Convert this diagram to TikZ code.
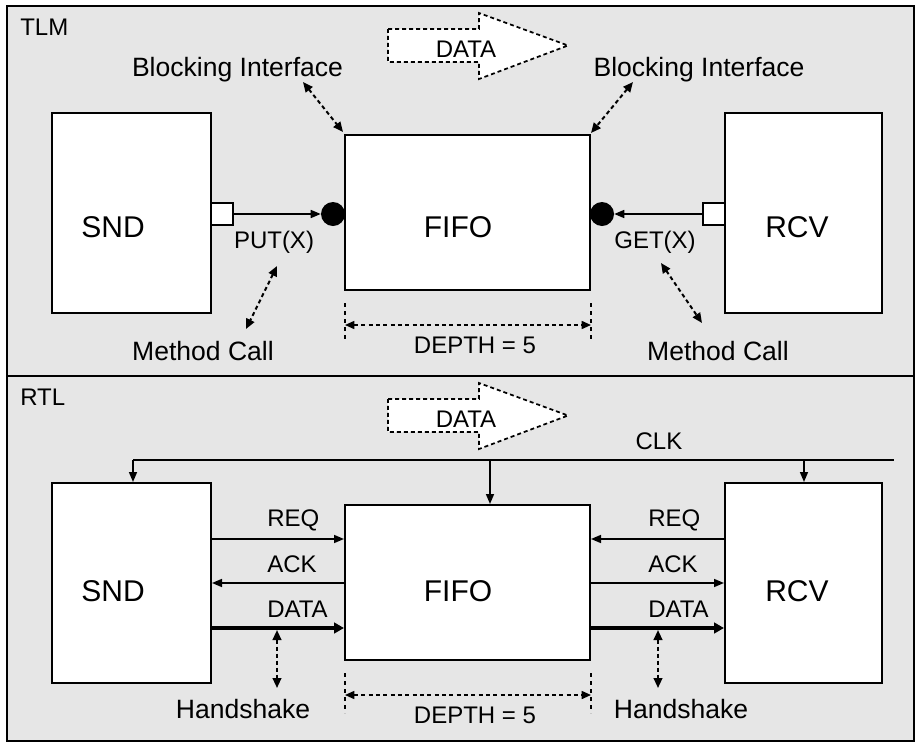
\documentclass[tikz,border=0pt]{standalone}
\usepackage{fontspec}
\setmainfont{Liberation Sans}
\usetikzlibrary{arrows.meta}
\definecolor{panelgray}{RGB}{230,230,230}
\begin{document}
\begin{tikzpicture}[x=0.75pt,y=-0.75pt,
  panel/.style={draw, line width=1.5pt, fill=panelgray},
  block/.style={draw, line width=1.5pt, fill=white, inner sep=0pt},
  port/.style={draw, line width=1.2pt, fill=white, inner sep=0pt, minimum size=16.5pt},
  socket/.style={circle, fill=black, inner sep=0pt, minimum size=18pt},
  conn/.style={line width=1.2pt, -{Triangle[length=7.5pt,width=6pt]}},
  fat/.style={line width=3.6pt, -{Triangle[length=7.5pt,width=8pt]}},
  both/.style={line width=1.5pt, dash pattern=on 3pt off 2.25pt,
    {Triangle[length=7.5pt,width=6.5pt]}-{Triangle[length=7.5pt,width=6.5pt]}},
  dim/.style={line width=1.2pt, dash pattern=on 3pt off 2.5pt,
    {Triangle[length=7pt,width=6pt]}-{Triangle[length=7pt,width=6pt]}},
  guide/.style={line width=1.2pt, dash pattern=on 3pt off 3pt},
  flow/.style={draw, fill=white, line width=1.3pt, dash pattern=on 3pt off 2.25pt, line join=miter},
  small/.style={font=\fontsize{18pt}{21pt}\selectfont, inner sep=0pt},
  mid/.style={font=\fontsize{19.9pt}{23pt}\selectfont, inner sep=0pt},
  big/.style={font=\fontsize{22.5pt}{26pt}\selectfont, inner sep=0pt}]
\useasboundingbox (0,0) rectangle (917,743);

% ---------------- panels ----------------
\draw[panel] (7,6) rectangle (914,376);
\draw[panel] (7,376) rectangle (914,741);
\node[small, anchor=base west] (tlmlabel) at (20,35) {TLM};
\node[small, anchor=base west] (rtllabel) at (20,405) {RTL};

% ---------------- TLM level ----------------
\draw[flow] (388,29) -- (479,29) -- (479,13) -- (568,45.5) -- (479,79) -- (479,62) -- (388,62) -- cycle;
\node[small, anchor=base] (tdata) at (466,57) {DATA};

\node[block, minimum width=119.25pt, minimum height=150pt] (snd) at (131.5,213) {};
\node[block, minimum width=183.75pt, minimum height=116.25pt] (fifo) at (467.5,212.5) {};
\node[block, minimum width=117.75pt, minimum height=150pt] (rcv) at (803.5,213) {};
\node[big] (sndtxt) at (113,227) {SND};
\node[big] (fifotxt) at (458,227) {FIFO};
\node[big] (rcvtxt) at (797,227) {RCV};

\node[port] (putport) at (222,214) {};
\node[port] (getport) at (714,214) {};
\node[socket] (putsock) at (333,214) {};
\node[socket] (getsock) at (602,214) {};
\draw[conn] (putport.east) -- (putsock.west);
\draw[conn] (getport.west) -- (getsock.east);
\node[small, anchor=base] (put) at (274,248) {PUT(X)};
\node[small, anchor=base] (get) at (655,248) {GET(X)};

\node[mid, anchor=base] (biL) at (237.5,76) {Blocking Interface};
\node[mid, anchor=base] (biR) at (699,76) {Blocking Interface};
\coordinate (biLa) at (303,82);  \coordinate (biLb) at (343,132);
\coordinate (biRa) at (633,82);  \coordinate (biRb) at (591,133);
\draw[both] (biLa) -- (biLb);
\draw[both] (biRa) -- (biRb);

\node[mid, anchor=base] (mcL) at (203,360) {Method Call};
\node[mid, anchor=base] (mcR) at (718,360) {Method Call};
\coordinate (mcLa) at (277,266); \coordinate (mcLb) at (246,329);
\coordinate (mcRa) at (661,263); \coordinate (mcRb) at (702,323);
\draw[both] (mcLa) -- (mcLb);
\draw[both] (mcRa) -- (mcRb);

\coordinate (dA1) at (345,303); \coordinate (dA2) at (345,343);
\coordinate (dB1) at (591,303); \coordinate (dB2) at (591,343);
\draw[guide] (dA1) -- (dA2);
\draw[guide] (dB1) -- (dB2);
\draw[dim] (345,325) coordinate (dL) -- (591,325) coordinate (dR);
\node[small, anchor=base] (depth) at (475,353) {DEPTH = 5};

% ---------------- RTL level ----------------
\draw[flow] (388,399) -- (479,399) -- (479,383) -- (568,415.5) -- (479,449) -- (479,432) -- (388,432) -- cycle;
\node[small, anchor=base] (rdata) at (466,427) {DATA};

\node[block, minimum width=119.25pt, minimum height=150pt] (snd2) at (131.5,583) {};
\node[block, minimum width=183.75pt, minimum height=116.25pt] (fifo2) at (467.5,582.5) {};
\node[block, minimum width=117.75pt, minimum height=150pt] (rcv2) at (803.5,583) {};
\node[big] (sndtxt2) at (113,591) {SND};
\node[big] (fifotxt2) at (458,591) {FIFO};
\node[big] (rcvtxt2) at (797,591) {RCV};

% clock distribution
\coordinate (clkL) at (133,460);
\coordinate (clkM) at (490,460);
\coordinate (clkR) at (804,460);
\coordinate (clkEnd) at (894,460);
\draw[line width=1.2pt] (clkL) -- (clkEnd);
\draw[conn] (clkL) -- (clkL |- snd2.north);
\draw[conn] (clkM) -- (clkM |- fifo2.north);
\draw[conn] (clkR) -- (clkR |- rcv2.north);
\node[small, anchor=base] (clk) at (659,449) {CLK};

% handshake signals
\coordinate (yreq) at (0,539);
\coordinate (yack) at (0,583);
\coordinate (ydat) at (0,628);
\draw[conn] (snd2.east |- yreq) -- (fifo2.west |- yreq);
\draw[conn] (fifo2.west |- yack) -- (snd2.east |- yack);
\draw[fat] (snd2.east |- ydat) -- (fifo2.west |- ydat);
\draw[conn] (rcv2.west |- yreq) -- (fifo2.east |- yreq);
\draw[conn] (fifo2.east |- yack) -- (rcv2.west |- yack);
\draw[fat] (fifo2.east |- ydat) -- (rcv2.west |- ydat);

\node[small, anchor=base west] (reqL) at (267,526) {REQ};
\node[small, anchor=base west] (ackL) at (267,572) {ACK};
\node[small, anchor=base west] (datL) at (267,617) {DATA};
\node[small, anchor=base west] (reqR) at (648,526) {REQ};
\node[small, anchor=base west] (ackR) at (648,572) {ACK};
\node[small, anchor=base west] (datR) at (648,617) {DATA};

\coordinate (hsLa) at (277,630); \coordinate (hsLb) at (277,688);
\coordinate (hsRa) at (658,630); \coordinate (hsRb) at (658,688);
\draw[both] (hsLa) -- (hsLb);
\draw[both] (hsRa) -- (hsRb);
\node[mid, anchor=base] (hsL) at (243,718) {Handshake};
\node[mid, anchor=base] (hsR) at (681,718) {Handshake};

\coordinate (eA1) at (345,673); \coordinate (eA2) at (345,713);
\coordinate (eB1) at (591,673); \coordinate (eB2) at (591,713);
\draw[guide] (eA1) -- (eA2);
\draw[guide] (eB1) -- (eB2);
\draw[dim] (345,695) coordinate (eL) -- (591,695) coordinate (eR);
\node[small, anchor=base] (depth2) at (475,723) {DEPTH = 5};
\end{tikzpicture}
\end{document}
